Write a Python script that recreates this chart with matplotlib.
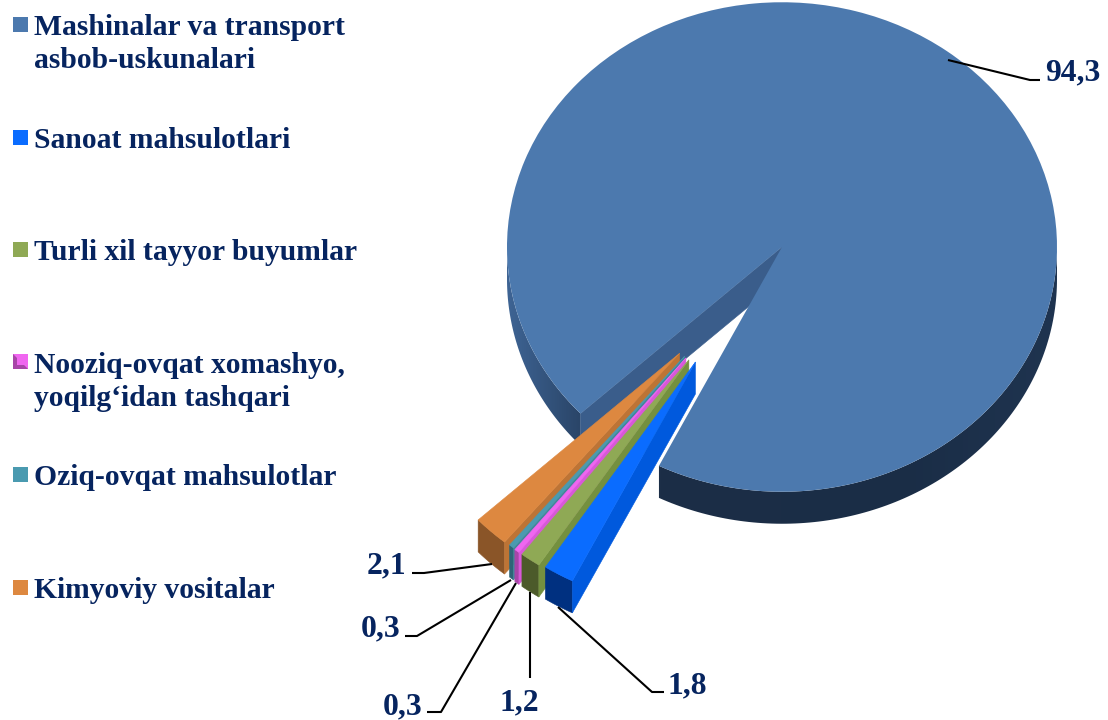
import numpy as np
import matplotlib
matplotlib.use('Agg')
import matplotlib.pyplot as plt
from matplotlib.patches import Polygon, Rectangle
from matplotlib.transforms import Affine2D
from matplotlib.colors import to_rgb

# data, clockwise from the big slice
categories = ['Mashinalar va transport\nasbob-uskunalari', 'Sanoat mahsulotlari', 'Turli xil tayyor buyumlar',
              'Nooziq-ovqat xomashyo,\nyoqilg\u2018idan tashqari', 'Oziq-ovqat mahsulotlar', 'Kimyoviy vositalar']
values = [94.3, 1.8, 1.2, 0.3, 0.3, 2.1]

# colours
face_colors = ['#4c79ae', '#0a6cff', '#8fa955', '#f066f0', '#4a9ab0', '#dd8840']
wall_colors = ['#3a5d8b', '#0059dd', '#74903f', '#d957d9', '#3f8799', '#bd7435']
front_colors = ['#1c2e47', '#003080', '#4c5a2a', '#a845a8', '#2e6577', '#8a5528']
text_color = '#06245f'

W, H = 1108, 720
plt.rcParams['font.family'] = ['Liberation Serif', 'DejaVu Serif']
fig = plt.figure(figsize=(W / 100, H / 100), dpi=100)
ax = fig.add_axes([0, 0, 1, 1])

# pie geometry in pixels, y goes up
cx, cy = 782, H - 247
radius = 275
squash = 0.89
depth = 32
tilt = Affine2D().translate(-cx, -cy).scale(1, squash).translate(cx, cy) + ax.transData
d = depth / squash

wedges, _ = ax.pie(values, explode=[0, 158, 158, 158, 158, 158], colors=face_colors, startangle=222.9,
                   counterclock=False, radius=radius, center=(cx, cy),
                   wedgeprops={'linewidth': 0})

# the exploded slices sit closer together than a plain radial explode, pixels (right, down)
nudges = [(0, 0), (-8, -7), (-2, -2), (1, 0), (2, 0), (6, 4)]
for w, (dx, dy) in zip(wedges, nudges):
    w.set_center((w.center[0] + dx, w.center[1] - dy / squash))


def edge_point(w, theta):
    return (w.center[0] + w.r * np.cos(np.radians(theta)), w.center[1] + w.r * np.sin(np.radians(theta)))


def extruded(pts):
    # top points followed by the same points pushed down
    pts = np.array(pts)
    low = pts[::-1] - [0, d]
    return np.vstack([pts, low])


def add_poly(pts, color, z):
    return ax.add_patch(Polygon(pts, closed=True, facecolor=color, edgecolor=color, linewidth=0.4,
                                transform=tilt, zorder=z))


# side of the big slice, shaded by x
stop_x = [507, 580, 660, 900, 1057]
stop_rgb = np.array([to_rgb(c) for c in ['#3e6494', '#2a4568', '#1c2e47', '#1a2d46', '#1f3450']])
grad = np.array([[np.interp(x, stop_x, stop_rgb[:, i]) for i in range(3)] for x in range(W)])[np.newaxis, :, :]
big = wedges[0]
for a, b in [(big.theta1, 0), (180, big.theta2)]:
    arc = [edge_point(big, t) for t in np.linspace(a, b, 120)]
    clip = Polygon(extruded(arc), closed=True, facecolor='none', edgecolor='none', transform=tilt)
    ax.add_patch(clip)
    im = ax.imshow(grad, extent=(0, W, 0, H), aspect='auto', zorder=1)
    im.set_clip_path(clip)
add_poly(extruded([big.center, edge_point(big, big.theta2)]), wall_colors[0], 2)
big.set_transform(tilt)
big.set_zorder(3)

# small slices, left one first so that the next one covers its wall
z = 10
for i in [5, 4, 3, 2, 1]:
    w = wedges[i]
    arc = [edge_point(w, t) for t in np.linspace(w.theta1, w.theta2, 8)]
    add_poly(extruded(arc), front_colors[i], z)
    add_poly(extruded([w.center, edge_point(w, w.theta2)]), wall_colors[i], z + 1)
    w.set_transform(tilt)
    w.set_zorder(z + 2)
    w.set_edgecolor(face_colors[i])
    w.set_linewidth(0.4)
    z += 3

ax.set_aspect('auto')
ax.set_xlim(0, W)
ax.set_ylim(0, H)
ax.axis('off')

# legend
marker_y = [17, 130, 242, 354, 467, 580]
text_y = [35, 148, 260, 373, 485, 598]
for i, name in enumerate(categories):
    ax.add_patch(Rectangle((13, H - marker_y[i] - 15), 15, 15, facecolor=face_colors[i], linewidth=0, zorder=5))
    for j, line in enumerate(name.split('\n')):
        ax.text(34, H - text_y[i] - 33 * j, line, fontsize=21.3, fontweight='bold', color=text_color, va='baseline')

# bevel of the pink marker
ax.add_patch(Polygon([(13, H - 354), (13, H - 369), (28, H - 369), (24, H - 365), (17, H - 365), (17, H - 358)],
                     facecolor='#a845a8', linewidth=0, zorder=6))

# value labels and their leader lines, same order as values
label_x = [1045, 668, 499, 383, 361, 367]
label_y = [80, 693, 710, 714, 636, 573]
leaders = [[(948, 60), (1030, 80), (1040, 80)],
           [(558, 607), (652, 692), (664, 692)],
           [(530, 592), (530, 678)],
           [(516, 583), (441, 712), (427, 712)],
           [(511, 580), (417, 636), (405, 636)],
           [(492, 564), (424, 573), (412, 573)]]
for i, v in enumerate(values):
    ax.text(label_x[i], H - label_y[i], str(v).replace('.', ','), fontsize=22.8, fontweight='bold',
            color=text_color, va='baseline', zorder=40)
    xs, ys = zip(*leaders[i])
    ax.plot(xs, [H - y for y in ys], color='black', linewidth=1.5, zorder=39, solid_capstyle='butt')

fig.savefig('out.png', dpi=100, facecolor='white')
